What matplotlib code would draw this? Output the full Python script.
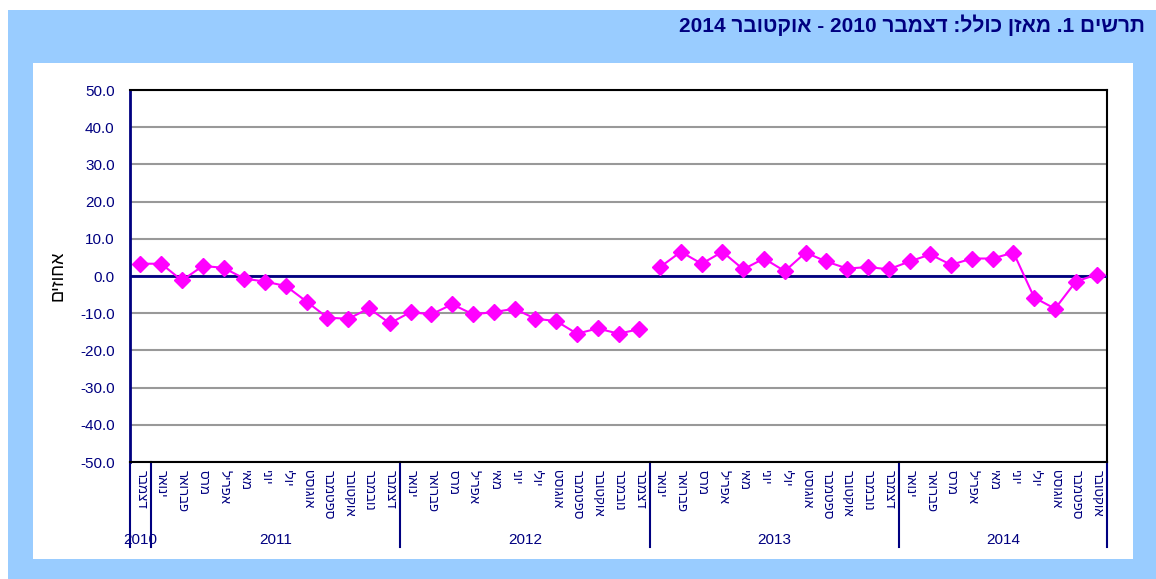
import re
import numpy as np
import matplotlib
matplotlib.use('Agg')
import matplotlib.pyplot as plt
import matplotlib.transforms as mtransforms
from matplotlib.patches import Rectangle

plt.rcParams['font.family'] = ['Liberation Sans', 'DejaVu Sans']

#---------------------DATA---------------------#
title = 'תרשים 1. מאזן כולל: דצמבר 2010 - אוקטובר 2014'
ylabel = 'אחוזים'
months = ['ינואר', 'פברואר', 'מרס', 'אפריל', 'מאי', 'יוני', 'יולי',
          'אוגוסט', 'ספטמבר', 'אוקטובר', 'נובמבר', 'דצמבר']
years = ['2010', '2011', '2012', '2013', '2014']
months_per_year = [1, 12, 12, 12, 10]
first_month = [11, 0, 0, 0, 0]

# Dec 2010 - Dec 2012, then Jan 2013 - Oct 2014 (line is broken between them)
balance_a = [3.3, 3.3, -1.2, 2.7, 2.2, -0.7, -1.5, -2.7, -6.9, -11.2, -11.5, -8.7,
             -12.7, -9.7, -10.3, -7.6, -10.3, -9.7, -8.8, -11.5, -12.1, -15.5,
             -14.1, -15.5, -14.3]
balance_b = [2.4, 6.5, 3.3, 6.5, 1.8, 4.7, 1.3, 6.3, 3.9, 2.0, 2.4, 1.8, 3.9,
             5.8, 3.0, 4.7, 4.7, 6.3, -5.8, -8.8, -1.5, 0.4]


def heb(s):
    # no bidi in matplotlib: flip to visual order, keep numbers as they are
    r = s[::-1]
    return re.sub(r'\d+', lambda m: m.group(0)[::-1], r)


month_labels = []
for f, n in zip(first_month, months_per_year):
    month_labels += [months[f + k] for k in range(n)]

#---------------------PLOT---------------------#
W, H = 1156, 579
navy = '#000080'
fig = plt.figure(figsize=(W / 100, H / 100), dpi=100)
fig.patches.append(Rectangle((8 / W, 0), 1 - 8 / W, 1 - 10 / H, transform=fig.transFigure,
                             fc='#99CCFF', ec='none', zorder=-3))
fig.patches.append(Rectangle((33 / W, 1 - 559 / H), 1100 / W, 496 / H, transform=fig.transFigure,
                             fc='white', ec='none', zorder=-2))

fig.text(1145 / W, 1 - 25 / H, heb(title), ha='right', va='center', fontsize=15,
         fontweight='bold', color=navy)
fig.text(58 / W, 1 - 276 / H, heb(ylabel), rotation=90, ha='center', va='center',
         fontsize=13, color='black')

ax = fig.add_axes([130 / W, 1 - 462 / H, 977 / W, 372 / H])
ax.set_facecolor('white')

xa = np.arange(len(balance_a))
xb = np.arange(len(balance_a), len(balance_a) + len(balance_b))
for xs, ys in [(xa, balance_a), (xb, balance_b)]:
    ax.plot(xs, ys, color='#FF00FF', lw=1.5, marker='D', markersize=8.5,
            markeredgecolor='#FF00FF', zorder=4, clip_on=False)

ax.set_ylim(-50, 50)
ax.set_yticks(np.arange(-50, 51, 10))
ax.set_yticklabels(['%.1f' % v for v in np.arange(-50, 51, 10)])
ax.yaxis.grid(True, color='#999999', lw=1.5)
ax.set_axisbelow(True)
ax.axhline(0, color=navy, lw=2, zorder=3)

n = len(month_labels)
ax.set_xlim(-0.5, n - 0.5)
ax.set_xticks(np.arange(n))
ax.set_xticklabels([heb(m) for m in month_labels], rotation=-90, ha='center', va='top',
                   fontsize=9.5, color=navy)
ax.tick_params(axis='x', length=0, pad=6)
ax.tick_params(axis='y', length=0, pad=11, labelsize=11, labelcolor=navy)

for s in ['top', 'right', 'bottom']:
    ax.spines[s].set_color('black')
    ax.spines[s].set_linewidth(1.5)
ax.spines['left'].set_color(navy)
ax.spines['left'].set_linewidth(2)

# year groups under the months
trans = mtransforms.blended_transform_factory(ax.transData, ax.transAxes)
bounds = np.concatenate([[0], np.cumsum(months_per_year)]) - 0.5
for b in bounds:
    ax.plot([b, b], [0, -85 / 372], color=navy, lw=1.5, transform=trans, clip_on=False)
for y, lo, hi in zip(years, bounds[:-1], bounds[1:]):
    ax.text((lo + hi) / 2, -78 / 372, y, transform=trans, ha='center', va='center',
            fontsize=11, color=navy)

fig.savefig('out.png', dpi=100)
